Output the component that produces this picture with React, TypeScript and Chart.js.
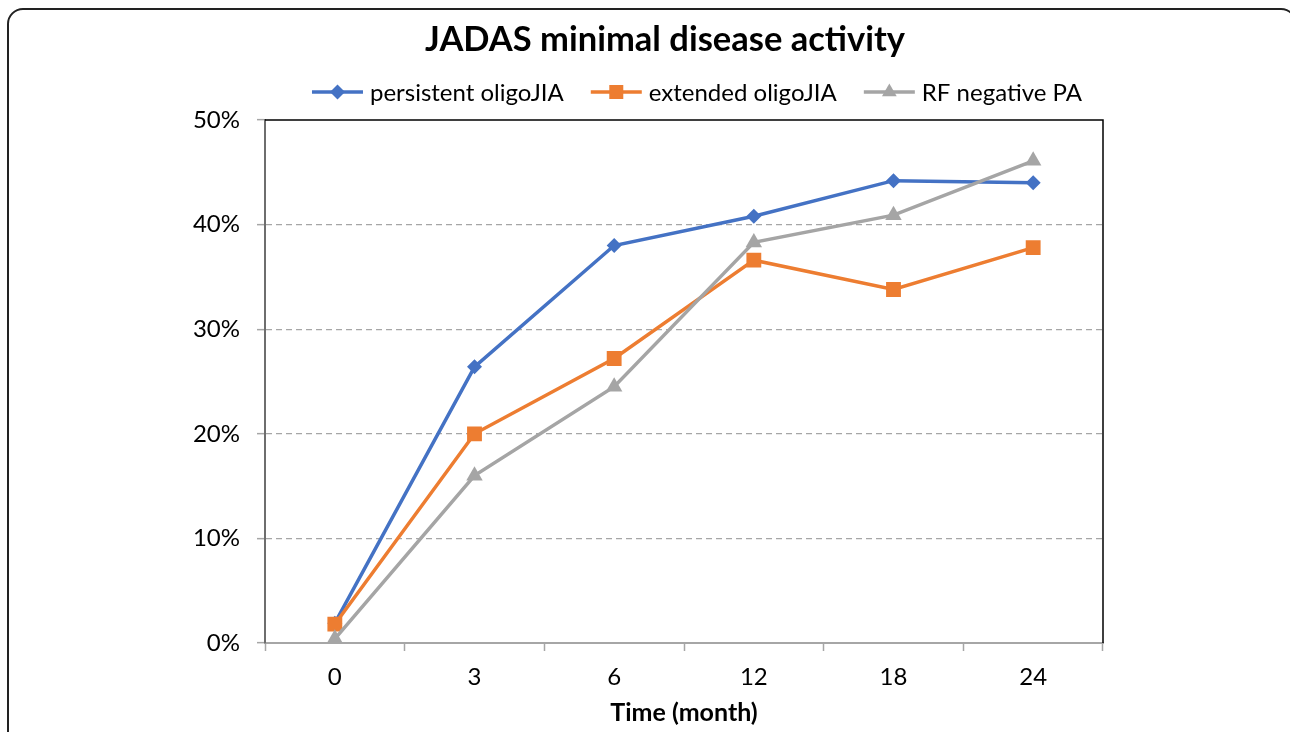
import React, { useEffect, useRef } from "react";
import { Chart, registerables } from "chart.js";

Chart.register(...registerables);

const categories = ["0", "3", "6", "12", "18", "24"];
const persistentOligo = [1.9, 26.4, 38.0, 40.8, 44.2, 44.0];
const extendedOligo = [1.8, 20.0, 27.2, 36.6, 33.8, 37.8];
const rfNegativePA = [0.4, 16.0, 24.5, 38.3, 40.9, 46.1];
const yTicks = [0, 10, 20, 30, 40, 50];

const TITLE = "JADAS minimal disease activity";
const X_TITLE = "Time (month)";
const FONT = "Lato, 'Open Sans', sans-serif";

const seriesStyle = [
  { label: "persistent oligoJIA", color: "#4472C4", marker: "diamond" },
  { label: "extended oligoJIA", color: "#ED7D31", marker: "square" },
  { label: "RF negative PA", color: "#A5A5A5", marker: "triangle" },
];

function drawMarker(ctx: CanvasRenderingContext2D, kind: string, x: number, y: number, color: string) {
  ctx.save();
  ctx.fillStyle = color;
  ctx.beginPath();
  if (kind === "diamond") {
    const r = 7.5;
    ctx.moveTo(x, y - r);
    ctx.lineTo(x + r, y);
    ctx.lineTo(x, y + r);
    ctx.lineTo(x - r, y);
  } else if (kind === "square") {
    const s = 7;
    ctx.rect(x - s, y - s, 2 * s, 2 * s);
  } else {
    const r = 8.5;
    ctx.moveTo(x, y - r);
    ctx.lineTo(x + r * 0.866, y + r * 0.5);
    ctx.lineTo(x - r * 0.866, y + r * 0.5);
  }
  ctx.closePath();
  ctx.fill();
  ctx.restore();
}

const decorPlugin = {
  id: "decor",
  beforeDatasetsDraw(chart: any) {
    const { ctx, chartArea } = chart;
    ctx.save();
    ctx.strokeStyle = "#000";
    ctx.lineWidth = 1.5;
    ctx.beginPath();
    ctx.moveTo(chartArea.left, chartArea.top);
    ctx.lineTo(chartArea.right, chartArea.top);
    ctx.lineTo(chartArea.right, chartArea.bottom);
    ctx.stroke();
    ctx.restore();
  },
  afterDraw(chart: any) {
    const { ctx } = chart;
    ctx.save();
    ctx.fillStyle = "#000";
    ctx.font = `bold 34.5px ${FONT}`;
    ctx.textAlign = "center";
    ctx.textBaseline = "middle";
    ctx.fillText(TITLE, 665, 40);

    ctx.font = `24px ${FONT}`;
    const lineLen = 51;
    const gapText = 7;
    const gapItem = 27;
    const widths = seriesStyle.map((s) => ctx.measureText(s.label).width);
    const total = widths.reduce((a, w) => a + lineLen + gapText + w, 0) + gapItem * (seriesStyle.length - 1);
    let x = 697 - total / 2;
    const y = 92;
    seriesStyle.forEach((s, i) => {
      ctx.strokeStyle = s.color;
      ctx.lineWidth = 3.5;
      ctx.beginPath();
      ctx.moveTo(x, y);
      ctx.lineTo(x + lineLen, y);
      ctx.stroke();
      drawMarker(ctx, s.marker, x + lineLen / 2, y, s.color);
      ctx.fillStyle = "#000";
      ctx.textAlign = "left";
      ctx.textBaseline = "middle";
      ctx.fillText(s.label, x + lineLen + gapText, y + 1);
      x += lineLen + gapText + widths[i] + gapItem;
    });
    ctx.restore();
  },
};

export default function App() {
  const ref = useRef<HTMLCanvasElement | null>(null);

  useEffect(() => {
    document.body.style.margin = "0";
    document.body.style.overflow = "hidden";
    const canvas = ref.current;
    if (!canvas) return;
    const chart = new Chart(canvas, {
      type: "line",
      data: {
        labels: categories,
        datasets: [
          {
            label: seriesStyle[0].label,
            data: persistentOligo,
            borderColor: seriesStyle[0].color,
            backgroundColor: seriesStyle[0].color,
            borderWidth: 3.5,
            pointStyle: "rectRot",
            pointRadius: 7.5,
            pointBorderWidth: 0,
            order: 3,
          },
          {
            label: seriesStyle[1].label,
            data: extendedOligo,
            borderColor: seriesStyle[1].color,
            backgroundColor: seriesStyle[1].color,
            borderWidth: 3.5,
            pointStyle: "rect",
            pointRadius: 10.5,
            pointBorderWidth: 0,
            order: 2,
          },
          {
            label: seriesStyle[2].label,
            data: rfNegativePA,
            borderColor: seriesStyle[2].color,
            backgroundColor: seriesStyle[2].color,
            borderWidth: 3.5,
            pointStyle: "triangle",
            pointRadius: 9.5,
            pointBorderWidth: 0,
            order: 1,
          },
        ],
      },
      options: {
        responsive: false,
        animation: false,
        layout: { padding: { left: 0, right: 187, top: 120, bottom: 0 } },
        plugins: {
          legend: { display: false },
          title: { display: false },
          tooltip: { enabled: false },
        },
        scales: {
          x: {
            offset: true,
            grid: {
              offset: true,
              drawOnChartArea: false,
              drawTicks: true,
              tickLength: 8,
              tickColor: "#a6a6a6",
              tickWidth: 1.5,
            },
            border: { display: true, color: "#a6a6a6", width: 2 },
            ticks: {
              color: "#000",
              font: { family: FONT, size: 24 },
              padding: 12,
              maxRotation: 0,
            },
            title: {
              display: true,
              text: X_TITLE,
              color: "#000",
              font: { family: FONT, size: 25, weight: "bold" },
              padding: { top: 0, bottom: 4 },
            },
            afterFit: (scale: any) => {
              scale.height = 89;
            },
          },
          y: {
            min: 0,
            max: 50,
            afterBuildTicks: (scale: any) => {
              scale.ticks = yTicks.map((v) => ({ value: v }));
            },
            grid: {
              color: (c: any) =>
                c.tick && (c.tick.value === 0 || c.tick.value === 50) ? "rgba(0,0,0,0)" : "#a6a6a6",
              lineWidth: 1.3,
              drawTicks: true,
              tickLength: 8,
              tickColor: "#a6a6a6",
              tickWidth: 1.5,
            },
            border: { display: true, color: "#6e6e6e", width: 2, dash: [6, 4] },
            ticks: {
              color: "#000",
              font: { family: FONT, size: 24 },
              padding: 17,
              callback: (v: any) => `${v}%`,
            },
            afterFit: (scale: any) => {
              scale.width = 265;
            },
          },
        },
      } as any,
      plugins: [decorPlugin],
    });
    return () => chart.destroy();
  }, []);

  return (
    <div style={{ position: "fixed", left: 0, top: 0, width: 1290, height: 732, overflow: "hidden", background: "#fff" }}>
      <canvas ref={ref} width={1290} height={732} style={{ position: "absolute", left: 0, top: 0, width: 1290, height: 732 }} />
      <div
        style={{
          position: "absolute",
          left: 7,
          top: 8,
          width: 1290,
          height: 800,
          border: "2px solid #222",
          borderRadius: 16,
          boxSizing: "border-box",
          pointerEvents: "none",
        }}
      />
    </div>
  );
}
